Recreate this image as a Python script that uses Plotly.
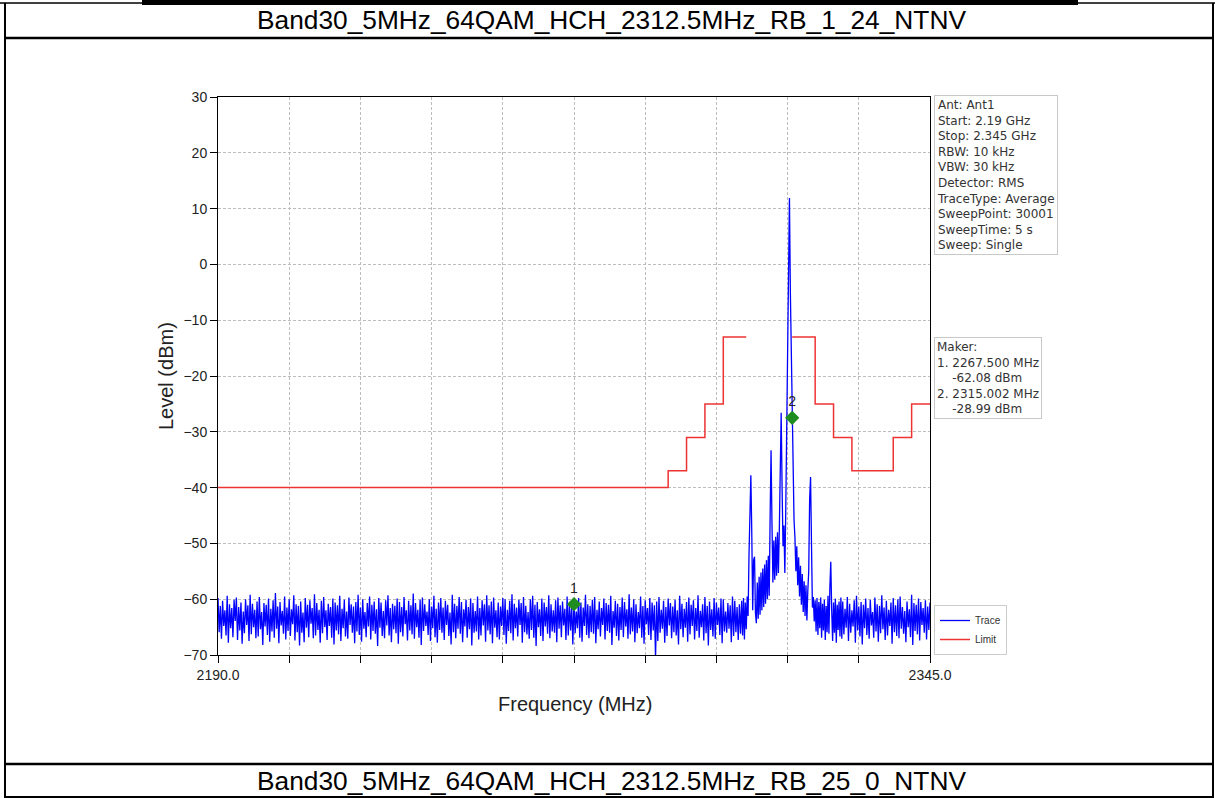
import numpy as np
import plotly.graph_objects as go

# Dados (espectro Band30, HCH 2312.5 MHz)
row_top = "Band30_5MHz_64QAM_HCH_2312.5MHz_RB_1_24_NTNV"
row_bottom = "Band30_5MHz_64QAM_HCH_2312.5MHz_RB_25_0_NTNV"

f_start = 2190.0
f_stop = 2345.0

# ruído de fundo 2190.00 .. 2303.75 MHz (passo 0.25 MHz)
level_a = [
    -59.8, -65.9, -61.2, -67.1, -60.3, -64.8, -62.0, -66.5, -59.4, -67.8, -60.9, -65.2,
    -61.6, -66.8, -60.1, -63.9, -59.7, -67.3, -61.4, -65.6, -60.6, -68.0, -62.2, -66.1,
    -60.0, -64.6, -61.1, -67.5, -59.2, -66.3, -60.8, -65.0, -61.9, -67.0, -60.4, -66.7,
    -59.6, -65.4, -62.3, -68.2, -60.7, -64.9, -61.0, -66.4, -59.9, -67.6, -61.7, -65.8,
    -60.2, -66.9, -58.9, -65.3, -61.3, -67.9, -60.5, -64.7, -62.1, -66.2, -59.5, -67.2,
    -61.5, -65.7, -60.0, -66.6, -61.8, -64.5, -59.3, -67.4, -60.9, -65.9, -61.2, -68.3,
    -60.4, -66.0, -62.4, -67.7, -59.8, -65.1, -61.0, -66.8, -60.2, -64.4, -61.6, -67.0,
    -59.1, -66.5, -60.7, -65.5, -61.9, -67.8, -60.3, -66.1, -59.6, -65.0, -62.0, -67.3,
    -60.8, -64.8, -61.4, -66.9, -59.9, -68.1, -60.6, -65.6, -61.1, -66.3, -59.4, -67.5,
    -61.7, -65.2, -60.1, -66.7, -62.2, -67.1, -59.7, -64.6, -60.9, -66.0, -61.3, -67.9,
    -60.5, -65.8, -59.2, -66.4, -61.5, -67.6, -60.0, -65.3, -62.3, -66.8, -60.7, -64.9,
    -59.5, -67.2, -61.0, -65.7, -60.4, -66.2, -61.8, -68.4, -59.8, -65.1, -60.6, -66.6,
    -62.1, -67.0, -60.2, -64.7, -59.3, -66.5, -61.6, -67.7, -60.8, -65.4, -61.2, -66.1,
    -59.9, -68.0, -60.5, -65.9, -61.4, -66.7, -59.6, -64.5, -62.0, -67.4, -60.3, -65.6,
    -61.1, -66.3, -59.0, -67.1, -60.7, -65.0, -61.9, -66.9, -60.1, -68.2, -59.7, -65.7,
    -60.9, -64.8, -62.2, -66.4, -60.0, -67.5, -61.3, -65.2, -59.4, -66.8, -61.7, -67.8,
    -60.6, -65.5, -59.8, -66.0, -61.5, -67.3, -60.3, -64.6, -61.0, -66.6, -62.4, -68.1,
    -59.2, -65.9, -60.8, -67.0, -61.2, -65.3, -59.6, -66.2, -60.5, -67.7, -61.8, -64.9,
    -60.1, -66.9, -61.4, -65.4, -59.9, -68.3, -60.7, -66.0, -62.1, -65.8, -59.5, -67.2,
    -61.6, -66.5, -60.2, -64.7, -60.9, -67.6, -59.3, -65.6, -61.1, -66.3, -60.4, -67.9,
    -59.7, -65.1, -62.0, -66.8, -60.6, -67.2, -61.3, -64.8, -59.8, -66.4, -60.0, -68.0,
    -61.9, -65.7, -60.3, -66.1, -59.1, -67.4, -60.8, -65.2, -61.5, -66.7, -60.1, -64.6,
    -60.7, -67.8, -59.6, -65.9, -61.2, -66.3, -62.3, -67.1, -60.0, -65.5, -59.4, -66.9,
    -61.0, -68.4, -60.5, -65.0, -61.8, -66.6, -59.9, -67.5, -60.6, -64.9, -61.4, -66.2,
    -59.3, -67.0, -60.9, -65.8, -62.0, -66.0, -60.2, -67.7, -59.7, -65.3, -61.1, -66.8,
    -60.4, -64.7, -61.7, -67.3, -59.5, -66.5, -60.8, -65.6, -61.3, -68.1, -60.0, -66.1,
    -62.2, -65.2, -59.8, -66.9, -60.6, -67.6, -61.5, -64.8, -59.2, -66.4, -60.9, -67.0,
    -61.2, -65.9, -60.1, -66.2, -59.6, -67.9, -61.9, -65.4, -60.4, -66.7, -61.6, -64.6,
    -59.9, -67.2, -60.7, -65.7, -61.0, -66.0, -59.4, -68.2, -62.1, -65.1, -60.3, -66.6,
    -60.8, -67.4, -61.4, -65.5, -59.7, -66.8, -60.5, -64.9, -61.8, -67.1, -59.1, -66.3,
    -61.5, -65.8, -60.0, -67.7, -60.9, -66.1, -62.3, -65.2, -59.5, -66.9, -61.2, -68.0,
    -60.2, -64.5, -61.6, -66.4, -59.8, -67.3, -60.6, -65.6, -61.1, -70.6, -60.4, -67.5,
    -59.6, -66.0, -61.9, -65.3, -60.3, -67.8, -61.4, -66.6, -59.9, -64.7, -60.7, -67.0,
    -61.3, -65.9, -60.1, -66.5, -62.0, -68.1, -59.4, -65.4, -60.8, -66.8, -61.7, -65.1,
    -60.5, -67.6, -59.7, -66.3, -61.0, -64.8, -60.2, -67.2, -61.6, -65.7, -59.3, -66.9,
    -62.1, -65.0, -60.9, -67.4, -59.6, -66.1, -61.2, -68.3, -60.4, -65.5, -61.8, -66.7,
    -59.8, -67.1, -60.6, -64.6, -61.5, -66.4, -59.9, -67.9, -60.0, -65.8, -62.2, -66.0,
    -60.7, -65.3, -61.1, -67.7, -59.5, -66.6, -60.3, -65.9, -61.4, -67.3, -60.9, -66.2,
]

# região da portadora 2304.0 .. 2325.8 MHz (passo 0.2 MHz)
level_b = [
    -60.3, -66.5, -59.8, -67.2, -60.6, -65.4, -59.5, -63.0, -52.0, -40.5,
    -37.8, -48.0, -62.0, -53.0, -52.4, -62.5, -64.3, -57.0, -63.5, -56.0,
    -62.8, -55.2, -62.0, -54.5, -61.4, -53.8, -60.8, -53.0, -60.0, -52.2,
    -59.4, -45.0, -33.3, -46.5, -57.0, -49.5, -56.5, -48.8, -55.8, -48.0,
    -55.3, -47.5, -38.0, -26.6, -40.0, -50.5, -46.8, -55.3, -44.0, -30.0,
    -12.0, 2.0, 11.9, -5.0, -16.0, -27.5, -36.0, -45.8, -49.0, -55.0,
    -50.5, -57.5, -52.5, -59.5, -54.0, -61.0, -55.5, -62.3, -56.8, -63.0,
    -57.5, -63.8, -58.5, -55.0, -42.0, -38.1, -50.0, -61.5, -59.6, -64.0,
    -60.2, -65.8, -59.8, -66.4, -60.5, -65.2, -59.7, -66.9, -60.8, -65.6,
    -60.1, -67.3, -61.2, -65.9, -59.4, -66.2, -58.0, -53.3, -62.0, -67.5,
    -60.6, -66.0, -59.9, -67.8, -61.0, -65.5, -60.4, -66.7, -59.7, -67.1,
]

# ruído de fundo 2326.00 .. 2345.00 MHz (passo 0.25 MHz)
level_c = [
    -60.4, -66.3, -61.7, -65.1, -59.6, -67.5, -60.8, -66.0, -62.0, -64.9, -60.2, -67.8,
    -59.4, -65.6, -61.3, -66.7, -60.5, -68.1, -61.0, -65.2, -59.9, -66.4, -61.6, -67.1,
    -60.1, -64.7, -62.3, -66.9, -59.7, -65.8, -60.9, -67.6, -61.2, -66.1, -59.3, -65.4,
    -61.5, -67.3, -60.3, -66.5, -61.9, -64.8, -60.6, -68.0, -59.8, -65.9, -61.1, -66.6,
    -60.0, -67.0, -59.5, -65.3, -61.4, -66.2, -62.1, -67.7, -60.4, -65.0, -61.8, -66.8,
    -59.2, -68.2, -60.7, -65.7, -61.0, -66.3, -59.9, -67.4, -60.5, -64.6, -61.6, -66.0,
    -60.2, -67.2, -61.3, -65.5, -60.6,
]

# linha de limite (degraus)
limit_freq = [2190, 2288, 2292, 2296, 2300, 2305, 2310, 2315, 2320, 2324, 2328, 2337, 2341, 2345]
limit_level = [-40, -37, -31, -25, -13, -13, None, -13, -25, -31, -37, -31, -25, -25]

# marcadores
marker_freq = [2267.5, 2315.002]
marker_level = [-60.9, -27.5]
marker_label = ["1", "2"]

info_lines = ["Ant: Ant1", "Start: 2.19 GHz", "Stop: 2.345 GHz", "RBW: 10 kHz", "VBW: 30 kHz",
              "Detector: RMS", "TraceType: Average", "SweepPoint: 30001", "SweepTime: 5 s",
              "Sweep: Single"]
maker_lines = ["Maker:", "1. 2267.500 MHz", "\u00a0\u00a0\u00a0\u00a0-62.08 dBm",
               "2. 2315.002 MHz", "\u00a0\u00a0\u00a0\u00a0-28.99 dBm"]

x_ticks = [2190.0, 2205.5, 2221.0, 2236.5, 2252.0, 2267.5, 2283.0, 2298.5, 2314.0, 2329.5, 2345.0]
x_ticktext = ["2190.0"] + [""] * 9 + ["2345.0"]

# eixo de frequência de cada trecho
freq_a = f_start + 0.25 * np.arange(len(level_a))
freq_b = 2304.0 + 0.2 * np.arange(len(level_b))
freq_c = 2326.0 + 0.25 * np.arange(len(level_c))
freq = np.concatenate([freq_a, freq_b, freq_c])
level = np.concatenate([level_a, level_b, level_c])

W, H = 1215, 798
FONT = "Liberation Sans, Arial, sans-serif"
BOXFONT = "DejaVu Sans, Liberation Sans, sans-serif"


def px(x):
    return x / W


def py(y):
    return 1 - y / H


fig = go.Figure()

fig.add_trace(go.Scatter(x=freq, y=level, mode="lines", name="Trace",
                         line=dict(color="#0000ff", width=1.3)))
fig.add_trace(go.Scatter(x=limit_freq, y=limit_level, mode="lines", name="Limit",
                         line=dict(color="#ee3333", width=1.5, shape="hv"), connectgaps=False))
fig.add_trace(go.Scatter(x=marker_freq, y=marker_level, mode="markers+text", text=marker_label,
                         textposition="top center", showlegend=False,
                         textfont=dict(family=FONT, size=14, color="#222"),
                         marker=dict(symbol="diamond", size=11, color="#1e8c1e")))

# linhas da tabela
shapes = []
def hline(y, x0, x1, w):
    shapes.append(dict(type="line", xref="paper", yref="paper", x0=px(x0), x1=px(x1),
                       y0=py(y), y1=py(y), line=dict(color="black", width=w)))

def vline(x, y0, y1, w):
    shapes.append(dict(type="line", xref="paper", yref="paper", x0=px(x), x1=px(x),
                       y0=py(y0), y1=py(y1), line=dict(color="black", width=w)))

shapes.append(dict(type="rect", xref="paper", yref="paper", x0=px(142), x1=px(1078),
                   y0=py(0), y1=py(5), fillcolor="black", line=dict(width=0)))
hline(3, 0, W, 1.5)
hline(38, 5, 1213, 2.5)
hline(764, 5, 1213, 2.5)
hline(797, 5, 1213, 2)
vline(5, 3, 798, 2)
vline(1213, 3, 798, 2)


def label(text, x, y, size, angle=0, color="#222"):
    return dict(text=text, x=px(x), y=py(y), xref="paper", yref="paper", showarrow=False,
                xanchor="center", yanchor="middle", textangle=angle,
                font=dict(family=FONT, size=size, color=color))


annotations = [
    label(row_top, 612, 20, 26.3, color="black"),
    label(row_bottom, 612, 781, 26.3, color="black"),
    label("Level (dBm)", 166, 376, 20, angle=-90),
    label("Frequency (MHz)", 575, 704, 20),
    dict(text="<br>".join(info_lines), x=px(934), y=py(95), xref="paper", yref="paper",
         xanchor="left", yanchor="top", align="left", showarrow=False,
         bgcolor="white", bordercolor="#c8c8c8", borderwidth=1, borderpad=2,
         font=dict(family=BOXFONT, size=12, color="#333")),
    dict(text="<br>".join(maker_lines), x=px(934), y=py(337), xref="paper", yref="paper",
         xanchor="left", yanchor="top", align="left", showarrow=False,
         bgcolor="white", bordercolor="#c8c8c8", borderwidth=1, borderpad=2,
         font=dict(family=BOXFONT, size=12, color="#333")),
]

axis_style = dict(ticks="outside", ticklen=7, tickcolor="black",
                  showline=True, mirror=True, linecolor="black", linewidth=1,
                  showgrid=True, gridcolor="#bdbdbd", griddash="3px,2px", gridwidth=0.8,
                  zeroline=False, automargin=False,
                  tickfont=dict(family=FONT, size=14, color="#222"))

fig.update_layout(
    width=W, height=H,
    margin=dict(l=0, r=0, t=0, b=0, pad=0, autoexpand=False),
    paper_bgcolor="white", plot_bgcolor="white",
    font=dict(family=FONT, size=13, color="#222"),
    shapes=shapes, annotations=annotations,
    legend=dict(x=px(934), y=py(655), xanchor="left", yanchor="bottom",
                bgcolor="white", bordercolor="#cccccc", borderwidth=1,
                font=dict(family=FONT, size=10, color="#333"), tracegroupgap=0),
    xaxis=dict(range=[f_start, f_stop], domain=[px(218), px(930)],
               tickvals=x_ticks, ticktext=x_ticktext, **axis_style),
    yaxis=dict(range=[-70, 30], domain=[py(655), py(97)], dtick=10, tick0=-70, **axis_style),
)

# remove a margem padrão do <body> para a figura ocupar a janela inteira
fig.write_html("out.html", config={"displayModeBar": False},
               post_script="document.body.style.margin='0';")
